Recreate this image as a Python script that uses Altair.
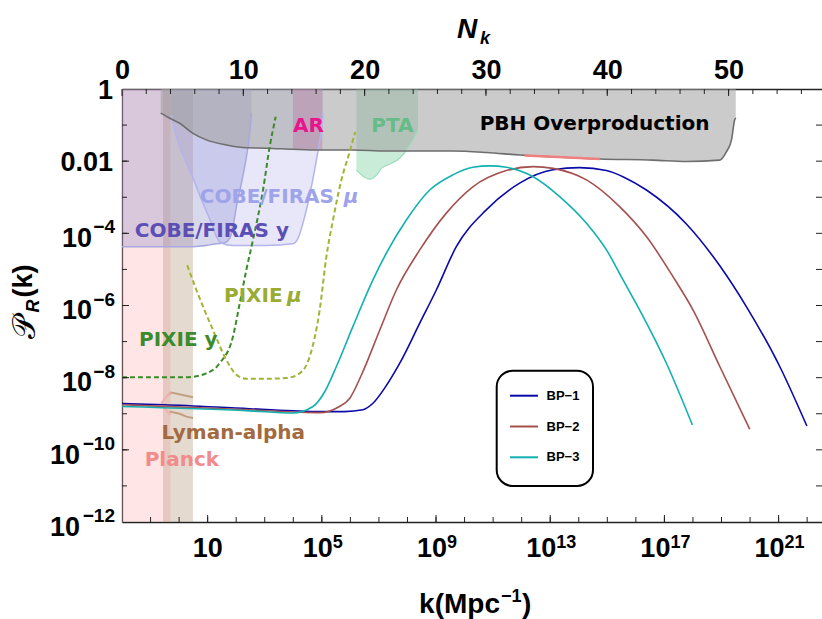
import altair as alt
import pandas as pd

W, H = 700, 433
X_DOM = [-2, 22.52]      # log10 k  (Mpc^-1)
Y_DOM = [-12, 0]         # log10 P_R
N_DOM = [0, 57.7]        # e-folds N_k (top axis)

AX_FONT = "Liberation Sans"
LB_FONT = "DejaVu Sans"
AXC = "#222222"

# ---------------- benchmark spectra (log10 k, log10 P_R) ----------------
bp_names = ["BP−1", "BP−2", "BP−3"]
bp_colors = ["#0a0aa8", "#a5504f", "#12b0b0"]

bp1_lk = [-2, -0.5, 2.47, 4.93, 5.8, 6.44, 6.79, 7.2, 7.73, 8.43, 9.01, 9.71, 10.76,
          11.93, 13.1, 14.03, 14.97, 15.6, 16.37, 17.77, 18.94, 19.87, 21.04, 21.99]
bp1_lp = [-8.72, -8.75, -8.86, -8.94, -8.94, -8.89, -8.71, -8.29, -7.6, -6.49, -5.57,
          -4.37, -3.35, -2.61, -2.24, -2.18, -2.26, -2.45, -2.8, -3.74, -4.9, -6.03, -7.69, -9.34]

bp2_lk = [-2, 2.47, 4.93, 5.57, 5.98, 6.39, 7.03, 7.61, 8.43, 9.36, 10.29, 11.46, 12.4,
          13.1, 14.27, 15.43, 16.37, 17.3, 18.0, 18.94, 19.99]
bp2_lp = [-8.75, -8.89, -8.97, -8.82, -8.57, -7.92, -6.68, -5.57, -4.46, -3.44, -2.71,
          -2.26, -2.15, -2.2, -2.52, -3.26, -4.09, -5.2, -6.12, -7.69, -9.43]

bp3_lk = [-2, 2.47, 3.98, 4.69, 5.1, 5.51, 6.09, 6.79, 7.26, 7.96, 8.78, 9.59, 10.29,
          10.88, 11.46, 12.4, 13.33, 14.27, 14.97, 15.55, 16.13, 17.07, 17.98]
bp3_lp = [-8.8, -8.92, -8.98, -8.8, -8.39, -7.69, -6.58, -5.29, -4.55, -3.63, -2.8,
          -2.38, -2.17, -2.13, -2.17, -2.43, -2.98, -3.72, -4.46, -5.29, -6.12, -7.6, -9.31]

# ---------------- constraints ----------------
planck_band = [-2, -0.305]
lyman_band = [-0.564, 0.487]
ar_band = [3.989, 5.019]
ar_floor = -1.69

pbh_lk = [-0.644, -0.329, 0.021, 0.487, 0.956, 1.657, 2.357, 3.058, 3.989, 4.925, 6.081,
          7.261, 9.583, 10.76, 11.93, 13.08, 14.73, 16.59, 17.77, 18.94, 19.17, 19.35, 19.46, 19.5]
pbh_lp = [-0.67, -0.81, -0.95, -1.23, -1.41, -1.55, -1.63, -1.64, -1.67, -1.69, -1.69,
          -1.72, -1.72, -1.76, -1.83, -1.88, -1.94, -1.97, -2.01, -1.97, -1.74, -1.41, -0.86, -0.8]
pbh_red_lk = [12.1, 13.08, 14.0, 14.73]
pbh_red_lp = [-1.84, -1.88, -1.91, -1.94]

mu_lk = [-0.27, -0.095, 0.137, 0.487, 0.837, 1.131, 1.306, 1.482, 1.888, 3.058, 3.989,
         4.165, 4.399, 4.634, 4.809, 4.949, 5.019, 5.04]
mu_lp = [-0.72, -1.32, -1.83, -2.47, -3.17, -3.72, -4.09, -4.27, -4.34, -4.34, -4.29,
         -4.14, -3.54, -2.71, -1.97, -1.32, -0.91, -0.67]

cy_lk = [-2, -1.03, 0.487, 1.072, 1.306, 1.597, 1.772, 1.888, 2.007, 2.182, 2.357, 2.473, 2.532]
cy_lp = [-4.37, -4.37, -4.37, -4.32, -4.29, -4.26, -4.14, -3.81, -3.26, -2.61, -1.88, -1.23, -0.67]

pta_lk = [6.21, 6.385, 6.676, 6.967, 7.086, 7.436, 7.727, 8.018, 8.193, 8.368]
pta_lp = [-2.24, -2.38, -2.5, -2.34, -2.2, -2.06, -1.92, -1.64, -1.41, -1.14]

pixy_lk = [-2, 0.266, 0.956, 1.422, 1.888, 2.123, 2.357, 2.588, 2.939, 3.173, 3.384]
pixy_lp = [-7.99, -7.99, -7.88, -7.6, -6.86, -5.94, -5.01, -4.18, -2.8, -1.6, -0.77]

pixm_lk = [0.284, 0.606, 1.187, 1.657, 2.007, 2.357, 3.058, 3.758, 4.224, 4.574, 4.925,
           5.159, 5.391, 5.685, 5.975, 6.168]
pixm_lp = [-4.88, -5.57, -6.68, -7.51, -7.92, -8.03, -8.03, -8.01, -7.88, -7.42, -6.12,
           -4.65, -3.63, -2.52, -1.74, -1.19]

lya_up_lk = [-0.389, -0.27, 0.487]
lya_up_lp = [-8.48, -8.41, -8.54]
lya_lo_lk = [-0.329, 0.021, 0.256, 0.487]
lya_lo_lp = [-8.94, -9.0, -9.08, -9.12]
pl_up_lk = [-0.62, -0.305]
pl_up_lp = [-8.71, -8.39]
pl_lo_lk = [-0.564, -0.305]
pl_lo_lp = [-8.8, -9.03]

# ---------------- labels ----------------
lab_text = ["AR", "PTA", "PBH Overproduction", "COBE/FIRAS", "COBE/FIRAS y", "PIXIE",
            "PIXIE y", "Lyman-alpha", "Planck"]
lab_lk = [3.989, 6.735, 10.53, 0.722, -1.555, 1.573, -1.405, -0.62, -1.205]
lab_lp = [-1.18, -1.18, -1.14, -3.17, -4.09, -5.9, -7.12, -9.7, -10.46]
lab_color = ["#e8158c", "#66bb88", "#000000", "#9ea3ea", "#5b4fb5", "#9aab32",
             "#3b8b2e", "#a3693f", "#f28b8b"]
mu_text = ["μ", "μ"]
mu_tlk = [5.77, 3.78]
mu_tlp = [-3.17, -5.9]
mu_color = ["#9ea3ea", "#9aab32"]

# ---------------- axes ----------------
x_tick_vals = list(range(-1, 23))
x_label_vals = [1, 5, 9, 13, 17, 21]
x_label_exp = ["", "5", "9", "13", "17", "21"]
y_tick_vals = list(range(-11, 0))
y_label_vals = [0, -2, -4, -6, -8, -10, -12]
y_label_base = ["1", "0.01", "10", "10", "10", "10", "10"]
y_label_exp = ["", "", "−4", "−6", "−8", "−10", "−12"]
n_tick_vals = list(range(2, 58, 2))
n_label_vals = [0, 10, 20, 30, 40, 50]


def df(lk, lp, **extra):
    d = pd.DataFrame({"lk": lk, "lp": lp})
    d["i"] = range(len(d))
    for k, v in extra.items():
        d[k] = v
    return d


xs = alt.Scale(domain=X_DOM, nice=False, zero=False)
ys = alt.Scale(domain=Y_DOM, nice=False, zero=False)
ns = alt.Scale(domain=N_DOM, nice=False, zero=False)
cs = alt.Scale(domain=bp_names, range=bp_colors)

common = dict(grid=False, ticks=False, title=None, domainColor=AXC, domainWidth=1.3)
AXX = alt.Axis(orient="bottom", labels=False, **common)
AXY = alt.Axis(orient="left", labels=False, **common)
AXN = alt.Axis(orient="top", values=n_label_vals, format="d", labelPadding=5,
               labelFont=AX_FONT, labelFontSize=27, labelFontWeight="bold",
               labelColor="black", labelFlush=False, labelOverlap=False, **common)

X = alt.X("lk:Q", scale=xs, axis=AXX)
Y = alt.Y("lp:Q", scale=ys, axis=AXY)

# vertical bands
bands = pd.DataFrame({"k0": [planck_band[0], lyman_band[0]],
                      "k1": [planck_band[1], lyman_band[1]],
                      "c": ["#ffb0b0", "#b09070"]})
band_layer = alt.Chart(bands).mark_rect(opacity=0.33).encode(
    x=alt.X("k0:Q", scale=xs, axis=AXX), x2="k1:Q",
    y=alt.value(0), y2=alt.value(H), color=alt.Color("c:N", scale=None))


def area(lk, lp, color, op):
    return alt.Chart(df(lk, lp)).mark_area(color=color, opacity=op, interpolate="monotone").encode(
        x=X, y=Y, y2=alt.value(0))


def line(lk, lp, color, width=1.5, dash=None, op=1.0, interp="monotone"):
    kw = dict(color=color, strokeWidth=width, opacity=op, interpolate=interp)
    if dash:
        kw["strokeDash"] = dash
    return alt.Chart(df(lk, lp)).mark_line(**kw).encode(x=X, y=Y, order="i:Q")


cy_area = area(cy_lk, cy_lp, "#8080c8", 0.3)
mu_area = area(mu_lk, mu_lp, "#a0a0e8", 0.25)
pta_area = area(pta_lk, pta_lp, "#60c890", 0.35)
ar_layer = alt.Chart(pd.DataFrame({"k0": [ar_band[0]], "k1": [ar_band[1]], "lp": [ar_floor]})).mark_rect(
    color="#d040a0", opacity=0.38).encode(
    x=alt.X("k0:Q", scale=xs, axis=AXX), x2="k1:Q", y=Y, y2=alt.value(0))
pbh_area = area(pbh_lk, pbh_lp, "#a0a0a0", 0.55)

cy_line = line(cy_lk, cy_lp, "#a8a8e0", 1.5)
mu_line = line(mu_lk, mu_lp, "#b4b4ec", 1.5)
pta_line = line(pta_lk, pta_lp, "#a0dcbc", 1.2)
pbh_line = line(pbh_lk, pbh_lp, "#6e6e6e", 1.6)
pbh_red = line(pbh_red_lk, pbh_red_lp, "#f08080", 2.5)
lya_lines = line(lya_up_lk, lya_up_lp, "#c0a080", 2, interp="linear") + \
    line(lya_lo_lk, lya_lo_lp, "#c0a080", 2, interp="linear")
pl_lines = line(pl_up_lk, pl_up_lp, "#f4b0b0", 2, interp="linear") + \
    line(pl_lo_lk, pl_lo_lp, "#f4b0b0", 2, interp="linear")

pixy = line(pixy_lk, pixy_lp, "#3c8a2a", 2, dash=[5, 3])
pixm = line(pixm_lk, pixm_lp, "#a3b435", 2, dash=[5, 3])

bp_df = pd.concat([
    df(bp1_lk, bp1_lp, series=bp_names[0]),
    df(bp2_lk, bp2_lp, series=bp_names[1]),
    df(bp3_lk, bp3_lp, series=bp_names[2]),
])
bp_layer = alt.Chart(bp_df).mark_line(strokeWidth=1.6, interpolate="monotone").encode(
    x=X, y=Y, order="i:Q", color=alt.Color("series:N", scale=cs, legend=None))

labels = pd.DataFrame({"lk": lab_lk, "lp": lab_lp, "text": lab_text, "c": lab_color})
label_layer = alt.Chart(labels).mark_text(align="left", baseline="alphabetic", font=LB_FONT,
                                          fontWeight="bold", fontSize=20).encode(
    x=X, y=Y, text="text:N", color=alt.Color("c:N", scale=None))
mus = pd.DataFrame({"lk": mu_tlk, "lp": mu_tlp, "text": mu_text, "c": mu_color})
mu_layer = alt.Chart(mus).mark_text(align="left", baseline="alphabetic", font=LB_FONT,
                                    fontWeight="bold", fontStyle="italic", fontSize=20).encode(
    x=X, y=Y, text="text:N", color=alt.Color("c:N", scale=None))


# ---------------- tick marks (inward) ----------------
def vticks(vals, length):
    d = pd.DataFrame({"lk": vals})
    return alt.Chart(d).mark_rule(color=AXC, strokeWidth=1).encode(
        x=X, y=alt.value(H), y2=alt.value(H - length))


def hticks(vals, length, left=True):
    d = pd.DataFrame({"lp": vals})
    x0 = 0 if left else W
    x1 = length if left else W - length
    return alt.Chart(d).mark_rule(color=AXC, strokeWidth=1).encode(
        y=Y, x=alt.value(x0), x2=alt.value(x1))


tick_layers = [vticks(x_tick_vals, 5), vticks(x_label_vals, 7),
               hticks(y_tick_vals, 5), hticks(y_label_vals[1:-1], 7),
               hticks(y_tick_vals, 6, left=False)]


# ---------------- tick labels with true superscripts ----------------
def tlabel(d, xch, ych, size, align, dx=0, dy=0):
    return alt.Chart(d).mark_text(font=AX_FONT, fontSize=size, fontWeight="bold", color="black",
                                  align=align, baseline="alphabetic", dx=dx, dy=dy).encode(
        x=xch, y=ych, text="t:N")


xl = pd.DataFrame({"lk": x_label_vals, "e": x_label_exp})
xl["n"] = xl["e"].str.len()
XB = 468   # baseline of bottom labels (px from plot top)
XE = 459   # baseline of bottom exponents
x_label_layers = [tlabel(xl[xl.n == 0].assign(t="10"), X, alt.value(XB), 27, "center")]
for n, off in [(1, 11), (2, 6)]:
    sub = xl[xl.n == n]
    x_label_layers.append(tlabel(sub.assign(t="10"), X, alt.value(XB), 27, "right", dx=off))
    x_label_layers.append(tlabel(sub.assign(t=sub["e"]), X, alt.value(XE), 18, "left", dx=off))

yl = pd.DataFrame({"lp": y_label_vals, "b": y_label_base, "e": y_label_exp})
yl["n"] = yl["e"].str.len()
y_label_layers = [tlabel(yl[yl.n == 0].assign(t=yl["b"]), alt.value(-9), Y, 27, "right", dy=9.7)]
for n, bx in [(2, -30), (3, -42)]:
    sub = yl[yl.n == n]
    y_label_layers.append(tlabel(sub.assign(t=sub["b"]), alt.value(bx), Y, 27, "right", dy=13.7))
    y_label_layers.append(tlabel(sub.assign(t=sub["e"]), alt.value(-7), Y, 19, "right", dy=0))


def txt(s, x, y, size, style="normal", weight="bold", angle=0, font=AX_FONT,
        align="center", baseline="middle"):
    return alt.Chart(pd.DataFrame({"t": [s]})).mark_text(
        font=font, fontSize=size, fontWeight=weight, fontStyle=style, angle=angle,
        align=align, baseline=baseline, color="black").encode(
        text="t:N", x=alt.value(x), y=alt.value(y))


titles = [
    txt("k(Mpc", 378, 524, 28, align="right", baseline="alphabetic"),
    txt("−1", 379, 513, 18, align="left", baseline="alphabetic"),
    txt(")", 400, 524, 28, align="left", baseline="alphabetic"),
    txt("N", 345, -59, 28, style="italic"),
    txt("k", 363, -50, 18, style="italic"),
    txt("𝒫", -97, 238, 32, weight="normal", angle=270, font="DejaVu Sans"),
    txt("R", -88, 217, 18, style="italic", angle=270),
    txt("(k)", -98, 192, 27, angle=270),
]

main = alt.layer(
    band_layer, cy_area, mu_area, ar_layer, pta_area, pbh_area,
    cy_line, mu_line, pta_line, pbh_line, pbh_red, lya_lines, pl_lines,
    pixy, pixm, bp_layer, label_layer, mu_layer, *tick_layers,
    *x_label_layers, *y_label_layers, *titles,
)

ntd = pd.DataFrame({"N": n_tick_vals})
nmaj = pd.DataFrame({"N": n_label_vals})
top = alt.layer(
    alt.Chart(ntd).mark_rule(color=AXC, strokeWidth=1).encode(
        x=alt.X("N:Q", scale=ns, axis=AXN), y=alt.value(0), y2=alt.value(5)),
    alt.Chart(nmaj).mark_rule(color=AXC, strokeWidth=1).encode(
        x=alt.X("N:Q", scale=ns, axis=AXN), y=alt.value(0), y2=alt.value(7)),
)

# ---------------- legend box ----------------
leg_df = pd.DataFrame({"series": bp_names})
rows = alt.Y("series:N", scale=alt.Scale(type="point", domain=bp_names, range=[306.7, 368.3], padding=0),
             axis=None)
legend = alt.layer(
    alt.Chart(pd.DataFrame({"a": [0]})).mark_rect(
        cornerRadius=16, fill="white", stroke="black", strokeWidth=2).encode(
        x=alt.value(374.7), x2=alt.value(471), y=alt.value(281.7), y2=alt.value(397)),
    alt.Chart(leg_df).mark_rule(strokeWidth=2).encode(
        x=alt.value(388), x2=alt.value(416), y=rows,
        color=alt.Color("series:N", scale=cs, legend=None)),
    alt.Chart(leg_df).mark_text(font=AX_FONT, fontSize=13, fontWeight="bold", color="black",
                                align="left", baseline="middle").encode(
        x=alt.value(424.5), y=rows, text="series:N"),
)

chart = alt.layer(main, top, legend).resolve_scale(x="independent", y="independent").properties(
    width=W, height=H, autosize=alt.AutoSizeParams(type="none"),
    padding={"left": 122, "top": 89, "right": 0, "bottom": 97},
).configure_view(stroke=None)

chart.save("out.html", embed_options={"renderer": "svg", "actions": False})
